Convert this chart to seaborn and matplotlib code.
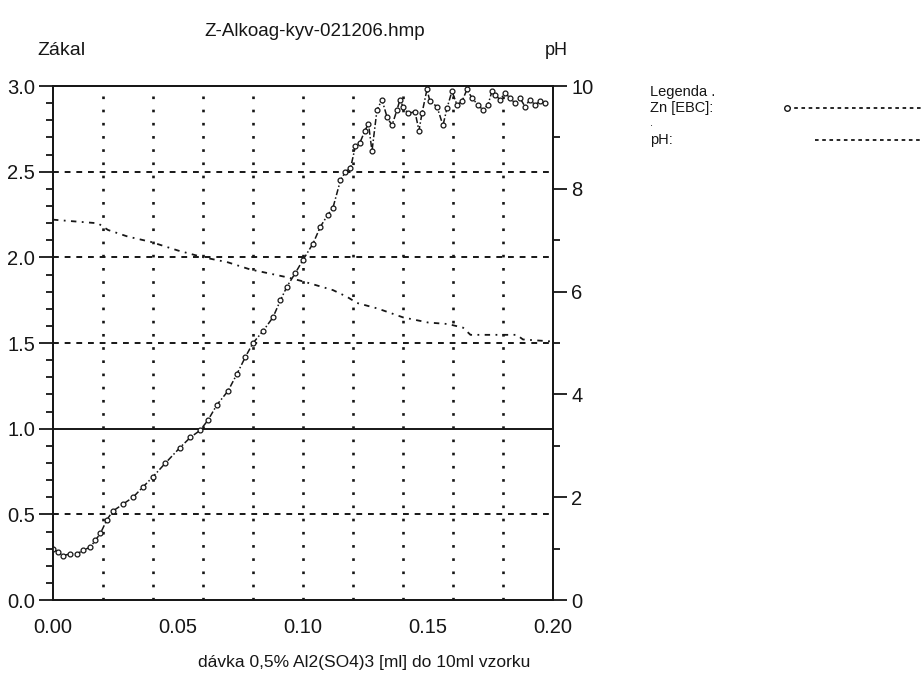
import numpy as np
import pandas as pd
import matplotlib
matplotlib.use("Agg")
import matplotlib.pyplot as plt
import seaborn as sns
from matplotlib.ticker import MultipleLocator
from matplotlib.lines import Line2D

# ------------------------------
# DATA
# ------------------------------
zn_dose = [0.0, 0.002, 0.004, 0.007, 0.0096, 0.012, 0.015, 0.017, 0.019, 0.0216,
           0.024, 0.028, 0.032, 0.036, 0.04, 0.045, 0.0508, 0.055, 0.0588, 0.062,
           0.0656, 0.07, 0.0736, 0.077, 0.08, 0.084, 0.088, 0.091, 0.0936, 0.097,
           0.1, 0.104, 0.107, 0.11, 0.112, 0.115, 0.117, 0.119, 0.121, 0.1228,
           0.1248, 0.1262, 0.1276, 0.1296, 0.1316, 0.1336, 0.1356, 0.1376, 0.1388, 0.14,
           0.142, 0.1448, 0.1464, 0.1476, 0.1496, 0.1508, 0.1536, 0.156, 0.1576, 0.1596,
           0.1616, 0.1636, 0.1656, 0.1676, 0.17, 0.172, 0.174, 0.1756, 0.1768, 0.1788,
           0.1808, 0.1828, 0.1848, 0.1868, 0.1888, 0.1908, 0.1928, 0.1948, 0.1968]
zn_value = [0.30, 0.28, 0.26, 0.27, 0.27, 0.29, 0.31, 0.35, 0.39, 0.47,
            0.52, 0.56, 0.60, 0.66, 0.72, 0.80, 0.89, 0.95, 0.99, 1.05,
            1.14, 1.22, 1.32, 1.42, 1.50, 1.57, 1.65, 1.75, 1.83, 1.91,
            1.985, 2.08, 2.18, 2.25, 2.29, 2.45, 2.50, 2.52, 2.65, 2.67,
            2.74, 2.78, 2.62, 2.86, 2.92, 2.82, 2.77, 2.86, 2.92, 2.88,
            2.84, 2.85, 2.74, 2.84, 2.98, 2.91, 2.88, 2.77, 2.87, 2.97,
            2.89, 2.91, 2.98, 2.93, 2.89, 2.86, 2.89, 2.97, 2.95, 2.92,
            2.96, 2.93, 2.90, 2.93, 2.88, 2.92, 2.89, 2.91, 2.90]

ph_dose = [0.0, 0.018, 0.022, 0.03, 0.039, 0.05, 0.06, 0.07, 0.079, 0.084,
           0.0936, 0.1, 0.112, 0.1176, 0.1216, 0.13, 0.14, 0.15, 0.158, 0.164,
           0.167, 0.1855, 0.188, 0.2]
ph_value = [7.40, 7.33, 7.20, 7.07, 6.97, 6.80, 6.67, 6.57, 6.43, 6.38,
            6.28, 6.20, 6.03, 5.90, 5.78, 5.67, 5.50, 5.40, 5.37, 5.30,
            5.16, 5.16, 5.07, 5.03]

h_grid_dashed = [0.5, 1.5, 2.0, 2.5]
h_grid_solid = [1.0]
v_grid = [0.02, 0.04, 0.06, 0.08, 0.10, 0.12, 0.14, 0.16, 0.18]

df_zn = pd.DataFrame({"dose": zn_dose, "zn": zn_value})
df_ph = pd.DataFrame({"dose": ph_dose, "ph": ph_value})

# ------------------------------
# STYLE
# ------------------------------
sns.set_style("white")
plt.rcParams['font.family'] = ['Liberation Sans', 'DejaVu Sans']
plt.rcParams['axes.linewidth'] = 1.3
INK = "#161616"

fig = plt.figure(figsize=(9.23, 6.97), dpi=100)
ax = fig.add_axes([0.0574, 0.139, 0.5417, 0.7376])
ax2 = ax.twinx()

# grid
for g in h_grid_dashed:
    ax.axhline(g, color=INK, linestyle=(0, (3, 3)), linewidth=1.4, zorder=1)
for g in h_grid_solid:
    ax.axhline(g, color=INK, linestyle="-", linewidth=1.4, zorder=1)
for g in v_grid:
    ax.axvline(g, color=INK, linestyle=(0, (1, 4)), linewidth=1.9, zorder=1)

# Zn curve
sns.lineplot(data=df_zn, x="dose", y="zn", ax=ax, color=INK, linewidth=1.1,
             linestyle=(0, (4, 1.5, 1, 1.5)), marker="o", markersize=3.5,
             markerfacecolor="white", markeredgecolor=INK, markeredgewidth=0.9,
             zorder=3)

# pH curve
sns.lineplot(data=df_ph, x="dose", y="ph", ax=ax2, color=INK, linewidth=1.3,
             linestyle=(0, (3, 3, 1, 3)), zorder=3)

ax.set_xlim(0, 0.2)
ax.set_ylim(0, 3.0)
ax2.set_ylim(0, 10)

ax.xaxis.set_major_locator(MultipleLocator(0.05))
ax.xaxis.set_minor_locator(MultipleLocator(0.01))
ax.yaxis.set_major_locator(MultipleLocator(0.5))
ax.yaxis.set_minor_locator(MultipleLocator(0.1))
ax2.yaxis.set_major_locator(MultipleLocator(2))
ax2.yaxis.set_minor_locator(MultipleLocator(1))
ax.xaxis.set_major_formatter(matplotlib.ticker.FormatStrFormatter("%.2f"))
ax.yaxis.set_major_formatter(matplotlib.ticker.FormatStrFormatter("%.1f"))

for a in (ax, ax2):
    a.tick_params(which="major", direction="out", length=10, width=1.3,
                  labelsize=14.5, colors=INK, pad=3)
    a.tick_params(which="minor", direction="out", length=5, width=1.3, colors=INK)
    for s in a.spines.values():
        s.set_visible(True)
        s.set_color(INK)

ax.set_xlabel("")
ax.set_ylabel("")
ax2.set_ylabel("")

# texts
fig.text(0.341, 0.955, "Z-Alkoag-kyv-021206.hmp", ha="center", va="center",
         fontsize=13.5, color=INK)
fig.text(0.041, 0.927, "Zákal", ha="left", va="center", fontsize=14, color=INK)
fig.text(0.59, 0.927, "pH", ha="left", va="center", fontsize=13, color=INK)
fig.text(0.395, 0.049, "dávka 0,5% Al2(SO4)3 [ml] do 10ml vzorku", ha="center",
         va="center", fontsize=12.5, color=INK)

# legend block
fig.text(0.704, 0.868, "Legenda .", ha="left", va="center", fontsize=10.5, color=INK)
fig.text(0.704, 0.845, "Zn [EBC]:", ha="left", va="center", fontsize=10.5, color=INK)
fig.text(0.704, 0.823, ".", ha="left", va="center", fontsize=8, color=INK)
fig.text(0.704, 0.799, "pH:", ha="left", va="center", fontsize=10.5, color=INK)
fig.add_artist(Line2D([0.853, 1.0], [0.845, 0.845], transform=fig.transFigure,
                      color=INK, linewidth=1.3, linestyle=(0, (2, 2)),
                      marker="o", markevery=[0], markersize=4,
                      markerfacecolor="white", markeredgecolor=INK))
fig.add_artist(Line2D([0.883, 1.0], [0.799, 0.799], transform=fig.transFigure,
                      color=INK, linewidth=1.3, linestyle=(0, (2, 2))))

plt.savefig("out.png", dpi=100)
plt.close()
